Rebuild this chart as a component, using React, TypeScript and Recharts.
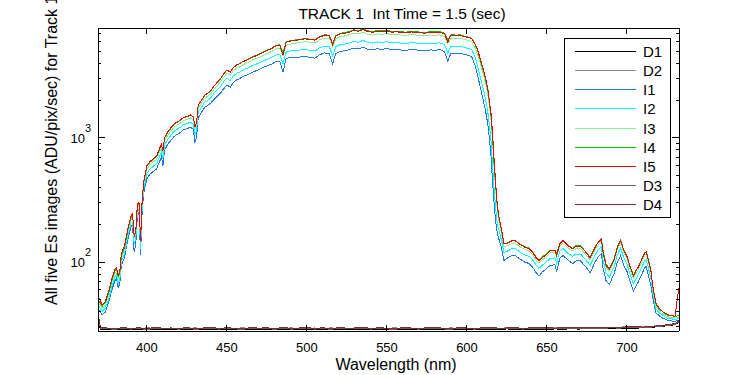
import { LineChart, Line, XAxis, YAxis, Legend } from "recharts";

// wavelength grid (nm) for the five Es image spectra
const wavelengths = [
  369.5, 372, 374, 376, 378, 380, 381, 382, 383, 384,
  386, 388, 390, 391, 392, 393, 394, 395, 396, 397,
  398, 400, 402, 404, 406, 408, 409, 410, 411, 413,
  415, 417, 419, 421, 423, 425, 427, 429, 430, 431,
  432, 434, 436, 438, 440, 442, 444, 446, 448, 450,
  452, 454, 456, 458, 460, 463, 466, 469, 472, 475,
  478, 481, 483, 485, 487, 490, 493, 496, 499, 502,
  505, 508, 511, 514, 516, 518, 521, 524, 527, 529,
  532, 535, 538, 541, 544, 547, 550, 553, 556, 559,
  562, 565, 568, 571, 574, 577, 580, 583, 586, 588,
  590, 593, 596, 599, 601, 603, 605, 606, 607, 608,
  609, 610, 611, 612, 613, 614, 615, 616, 617, 618,
  619, 620, 621, 622, 623, 625, 628, 630, 632, 634,
  636, 639, 641, 643, 645, 647, 649, 652, 655, 656,
  658, 660, 663, 666, 668, 671, 674, 677, 680, 682,
  684, 685, 687, 689, 692, 694, 696, 698, 700, 702,
  704, 707, 709, 711, 712, 713, 715, 716, 718, 720,
  722, 724, 726, 728, 730, 732.4,
];

const i1 = [
  42, 37.5, 39.5, 47, 59, 71, 74, 62, 67, 94,
  109, 151, 192, 200, 120, 140, 235, 250, 115, 258,
  360, 472, 512, 538, 564, 650, 704, 600, 800, 890,
  960, 1030, 1072, 1110, 1170, 1185, 1225, 1170, 920, 1020,
  1450, 1600, 1760, 1830, 1920, 2050, 2180, 2300, 2500, 2680,
  2560, 2800, 2940, 3010, 3140, 3240, 3400, 3510, 3680, 3800,
  3950, 4150, 4170, 3400, 4380, 4450, 4470, 4500, 4570, 4450,
  4400, 4700, 4850, 4780, 3950, 4770, 4990, 5050, 5170, 5300,
  5210, 5380, 5200, 5120, 5240, 5180, 5260, 5130, 5170, 5110,
  5080, 5170, 5130, 5070, 5040, 5130, 5090, 5150, 4980, 4150,
  4830, 4800, 4820, 4700, 4620, 4500, 3850, 3450, 3050, 2680,
  2350, 2060, 1800, 1550, 1290, 1000, 720, 440, 290, 210,
  170, 152, 138, 122, 103, 107, 113, 114, 108, 104,
  100, 97, 91, 83, 77, 83, 87, 94, 95, 84,
  107, 113, 104, 97, 102, 102, 92, 82, 100, 110,
  117, 90, 70, 66, 81, 100, 113, 94, 84, 69,
  58, 69, 78, 90, 92, 82, 64, 52, 39, 37,
  35.5, 34.5, 33.8, 33.5, 33.2, 34,
];

const i2 = [
  45, 40, 42.5, 50, 63, 76, 79, 67, 72, 100,
  117, 162, 205, 213, 140, 153, 250, 268, 128, 275,
  392, 520, 565, 592, 620, 715, 775, 680, 875, 975,
  1055, 1135, 1180, 1220, 1285, 1300, 1345, 1290, 1060, 1150,
  1600, 1760, 1935, 2010, 2110, 2300, 2460, 2600, 2850, 3030,
  2900, 3170, 3320, 3400, 3540, 3660, 3840, 3970, 4150, 4300,
  4470, 4700, 4720, 3950, 4950, 5050, 5080, 5120, 5200, 5070,
  5020, 5350, 5510, 5440, 4580, 5420, 5670, 5720, 5870, 6020,
  5920, 6110, 5910, 5810, 5950, 5890, 5970, 5830, 5880, 5810,
  5770, 5870, 5830, 5760, 5730, 5830, 5790, 5850, 5660, 4850,
  5500, 5460, 5490, 5340, 5260, 5140, 4500, 4080, 3650, 3230,
  2850, 2520, 2230, 1930, 1630, 1280, 950, 600, 380, 265,
  200, 180, 160, 142, 119, 122, 128, 129, 123, 118,
  114, 111, 104, 95, 89, 94, 99, 107, 108, 98,
  122, 129, 118, 111, 116, 116, 105, 94, 114, 125,
  133, 104, 81, 76, 92, 114, 129, 108, 96, 79,
  67, 79, 89, 102, 104, 94, 73, 58, 42, 39,
  37.5, 36, 35, 34.8, 34.5, 35,
];

const i3 = [
  48, 42.5, 45, 54, 67, 81, 84, 73, 77, 107,
  124, 172, 218, 229, 158, 165, 268, 287, 146, 296,
  420, 562, 610, 640, 672, 780, 838, 762, 952, 1055,
  1140, 1225, 1275, 1320, 1388, 1405, 1455, 1405, 1180, 1255,
  1730, 1900, 2090, 2175, 2280, 2480, 2650, 2830, 3090, 3310,
  3200, 3480, 3650, 3740, 3900, 4040, 4250, 4400, 4600, 4790,
  4980, 5260, 5310, 4560, 5590, 5730, 5810, 5880, 6000, 5870,
  5830, 6200, 6390, 6320, 5450, 6300, 6580, 6650, 6820, 7000,
  6880, 7100, 6860, 6750, 6910, 6840, 6940, 6770, 6820, 6750,
  6700, 6820, 6770, 6690, 6660, 6770, 6720, 6790, 6580, 5780,
  6390, 6350, 6370, 6200, 6110, 5970, 5360, 4980, 4560, 4140,
  3710, 3340, 3010, 2630, 2270, 1830, 1400, 930, 560, 375,
  260, 214, 185, 161, 133, 135, 141, 142, 136, 131,
  126, 122, 115, 104, 99, 104, 109, 119, 119, 111,
  135, 143, 130, 123, 128, 128, 116, 104, 126, 138,
  147, 119, 90, 85, 102, 126, 142, 119, 106, 87,
  74, 87, 99, 113, 115, 104, 81, 62, 44.5, 40.5,
  38.8, 37, 36, 35.8, 35.5, 36,
];

const i4 = [
  50, 44, 47, 56, 70, 85, 88, 76, 80, 112,
  130, 180, 228, 240, 165, 172, 280, 300, 152, 310,
  440, 590, 640, 672, 705, 820, 880, 800, 1000, 1110,
  1200, 1290, 1340, 1390, 1460, 1480, 1530, 1480, 1240, 1320,
  1820, 2000, 2200, 2290, 2400, 2620, 2800, 3000, 3280, 3520,
  3400, 3700, 3880, 3980, 4150, 4300, 4520, 4680, 4900, 5100,
  5300, 5600, 5650, 4850, 5950, 6100, 6180, 6250, 6380, 6250,
  6200, 6600, 6800, 6720, 5800, 6700, 7000, 7080, 7250, 7450,
  7320, 7550, 7300, 7180, 7350, 7280, 7380, 7200, 7260, 7180,
  7130, 7250, 7200, 7120, 7080, 7200, 7150, 7220, 7000, 6150,
  6800, 6750, 6780, 6600, 6500, 6350, 5700, 5300, 4850, 4400,
  3950, 3550, 3200, 2800, 2420, 1950, 1500, 1000, 600, 400,
  275, 225, 195, 170, 140, 142, 149, 150, 143, 138,
  133, 129, 121, 110, 104, 110, 115, 125, 125, 117,
  142, 150, 137, 129, 135, 135, 122, 109, 133, 145,
  155, 125, 95, 89, 107, 133, 150, 125, 112, 92,
  78, 92, 104, 119, 121, 110, 85, 65, 46, 42,
  40, 38, 37, 36.8, 36.5, 37,
];

const i5 = [
  53, 45, 48, 58, 73, 88, 90, 78, 84, 118,
  135, 186, 235, 246, 160, 178, 290, 305, 148, 318,
  450, 600, 650, 680, 712, 830, 890, 790, 1010, 1120,
  1210, 1300, 1350, 1400, 1470, 1490, 1540, 1470, 1220, 1330,
  1840, 2010, 2210, 2300, 2420, 2640, 2810, 3020, 3300, 3540,
  3380, 3690, 3860, 3960, 4130, 4270, 4480, 4640, 4860, 5060,
  5260, 5560, 5600, 4700, 5900, 6050, 6120, 6200, 6300, 6200,
  6150, 6530, 6720, 6650, 5650, 6620, 6920, 7000, 7150, 7350,
  7250, 7450, 7220, 7100, 7260, 7200, 7300, 7120, 7180, 7100,
  7050, 7160, 7120, 7040, 7000, 7120, 7060, 7140, 6900, 5950,
  6720, 6680, 6700, 6520, 6450, 6300, 5750, 5400, 4950, 4500,
  4050, 3650, 3280, 2880, 2500, 2000, 1580, 1080, 650, 420,
  285, 230, 198, 172, 142, 141, 148, 149, 142, 137,
  132, 128, 120, 109, 103, 108, 113, 123, 124, 112,
  140, 149, 136, 128, 134, 134, 121, 108, 131, 144,
  154, 120, 93, 88, 105, 131, 149, 124, 111, 91,
  77, 91, 103, 118, 120, 108, 84, 66, 47, 42.5,
  40, 38.5, 37.5, 37, 36.5, 62,
];

// dark frames, sampled on their own grid
const darkWavelengths = [
  369.5, 371, 375, 380, 385, 390, 395, 400, 405, 410, 415,
  420, 425, 430, 435, 440, 445, 450, 455, 460, 465,
  470, 475, 480, 485, 490, 495, 500, 505, 510, 515,
  520, 525, 530, 535, 540, 545, 550, 555, 560, 565,
  570, 575, 580, 585, 590, 595, 600, 605, 610, 615,
  620, 625, 630, 635, 640, 645, 650, 655, 660, 665,
  670, 675, 680, 685, 690, 695, 700, 705, 710, 715,
  720, 725, 730, 732.4,
];

const d1 = [
  31, 28.7, 28.6, 28.9, 28.4, 28.8, 28.5, 29.0, 28.6, 28.3, 28.8,
  28.7, 28.4, 28.9, 28.6, 28.5, 28.8, 28.4, 28.7, 28.9, 28.5,
  28.6, 28.3, 28.8, 28.6, 28.9, 28.4, 28.6, 28.7, 28.5, 28.9,
  28.4, 28.6, 28.8, 28.5, 28.7, 28.3, 28.6, 28.9, 28.5, 28.7,
  28.4, 28.8, 28.6, 28.5, 28.9, 28.4, 28.7, 28.6, 28.8, 28.5,
  28.6, 28.9, 28.4, 28.7, 28.5, 28.8, 28.6, 28.9, 28.7, 29.0,
  28.8, 29.1, 28.9, 29.2, 29.0, 29.3, 29.4, 29.2, 29.6, 29.8,
  30.1, 30.6, 31.2, 32.5,
];

const d2 = [
  33, 29.3, 29.1, 29.4, 28.9, 29.3, 29.0, 29.5, 29.2, 28.9, 29.4,
  29.2, 29.0, 29.5, 29.1, 29.3, 29.0, 29.4, 29.2, 29.5, 29.0,
  29.3, 28.9, 29.4, 29.1, 29.5, 29.0, 29.2, 29.4, 29.1, 29.5,
  29.0, 29.3, 29.4, 29.1, 29.3, 28.9, 29.2, 29.5, 29.0, 29.3,
  29.1, 29.4, 29.2, 29.0, 29.5, 29.1, 29.3, 29.2, 29.4, 29.0,
  29.2, 29.5, 29.0, 29.3, 29.1, 29.4, 29.2, 29.5, 29.3, 29.6,
  29.4, 29.7, 29.5, 29.8, 29.6, 29.9, 30.0, 29.8, 30.2, 30.4,
  30.7, 31.2, 31.8, 33.2,
];

const d3 = [
  38, 29.2, 29.0, 28.7, 29.2, 28.8, 29.1, 28.6, 29.3, 28.9, 29.0,
  28.8, 29.2, 28.7, 29.0, 29.3, 28.8, 29.1, 28.9, 28.7, 29.2,
  28.9, 29.1, 28.7, 29.3, 28.8, 29.0, 29.2, 28.8, 29.1, 28.7,
  29.2, 28.9, 29.0, 29.3, 28.8, 29.1, 28.9, 28.7, 29.2, 29.0,
  28.8, 29.1, 29.3, 28.9, 28.7, 29.2, 29.0, 28.8, 29.1, 29.3,
  28.9, 29.0, 29.2, 28.8, 29.1, 29.0, 29.3, 28.9, 29.2, 29.1,
  29.3, 29.0, 29.4, 29.2, 29.5, 29.3, 29.6, 29.7, 29.5, 29.9,
  30.2, 30.8, 31.4, 33.0,
];

const d4 = [
  37, 29.5, 29.4, 29.1, 29.6, 29.2, 29.5, 29.0, 29.7, 29.3, 29.4,
  29.2, 29.6, 29.1, 29.4, 29.7, 29.2, 29.5, 29.3, 29.1, 29.6,
  29.3, 29.5, 29.1, 29.7, 29.2, 29.4, 29.6, 29.2, 29.5, 29.1,
  29.6, 29.3, 29.4, 29.7, 29.2, 29.5, 29.3, 29.1, 29.6, 29.4,
  29.2, 29.5, 29.7, 29.3, 29.1, 29.6, 29.4, 29.2, 29.5, 29.7,
  29.3, 29.4, 29.6, 29.2, 29.5, 29.4, 29.7, 29.3, 29.6, 29.5,
  29.7, 29.4, 29.8, 29.6, 29.9, 29.7, 30.0, 30.1, 29.9, 30.3,
  30.6, 31.2, 31.9, 33.6,
];

const xTicks = [400, 450, 500, 550, 600, 650, 700];
const yTicks = [
  30, 40, 50, 60, 70, 80, 90, 100, 200, 300, 400, 500, 600, 700, 800, 900,
  1000, 2000, 3000, 4000, 5000, 6000, 7000,
];
const yMajorTicks = [100, 1000];

const X_DOMAIN: [number, number] = [369.4, 732.5];
const Y_DOMAIN: [number, number] = [27.8, 7700];

const FONT = "'Liberation Sans', Arial, sans-serif";

const specData = wavelengths.map((wl, i) => ({
  wl,
  I1: i1[i],
  I2: i2[i],
  I3: i3[i],
  I4: i4[i],
  I5: i5[i],
}));

const darkData = darkWavelengths.map((wl, i) => ({
  wl,
  D1: d1[i],
  D2: d2[i],
  D3: d3[i],
  D4: d4[i],
}));

// plot order = legend order
const series = [
  { key: "D1", color: "#000000", dark: true },
  { key: "D2", color: "#8c8c8c", dark: true },
  { key: "I1", color: "#1f78e6", dark: false },
  { key: "I2", color: "#00ffff", dark: false },
  { key: "I3", color: "#8cf08c", dark: false },
  { key: "I4", color: "#00c000", dark: false },
  { key: "I5", color: "#ee0000", dark: false },
  { key: "D3", color: "#7e5858", dark: true },
  { key: "D4", color: "#7a3030", dark: true },
];

// ticks point inwards, like the matlab box axes
const BottomTick = (props: any) => {
  const { x, y, payload } = props;
  return (
    <g>
      <line x1={x} x2={x} y1={y} y2={y - 6} stroke="#000" shapeRendering="crispEdges" />
      <text x={x} y={y + 21} textAnchor="middle" fontSize={13} fontFamily={FONT} fill="#000">
        {payload.value}
      </text>
    </g>
  );
};

const TopTick = (props: any) => {
  const { x, y } = props;
  return <line x1={x} x2={x} y1={y} y2={y + 6} stroke="#000" shapeRendering="crispEdges" />;
};

const LeftTick = (props: any) => {
  const { x, y, payload } = props;
  const major = yMajorTicks.includes(payload.value);
  const exp = Math.round(Math.log10(payload.value));
  return (
    <g>
      <line x1={x} x2={x + (major ? 7 : 3)} y1={y} y2={y} stroke="#000" shapeRendering="crispEdges" />
      {major && (
        <g fontFamily={FONT} fill="#000">
          <text x={x - 13} y={y + 5} textAnchor="end" fontSize={13}>
            10
          </text>
          <text x={x - 13} y={y - 6} textAnchor="start" fontSize={11}>
            {exp}
          </text>
        </g>
      )}
    </g>
  );
};

const RightTick = (props: any) => {
  const { x, y, payload } = props;
  const major = yMajorTicks.includes(payload.value);
  return <line x1={x} x2={x - (major ? 7 : 3)} y1={y} y2={y} stroke="#000" shapeRendering="crispEdges" />;
};

const LegendBox = () => (
  <svg width={108} height={182} style={{ display: "block" }}>
    <rect x={0.5} y={0.5} width={106} height={179} fill="#fff" stroke="#000" shapeRendering="crispEdges" />
    {series.map((s, i) => {
      const cy = Math.round(12.7 + 19.2 * i) + 0.5;
      return (
        <g key={s.key}>
          <line x1={11} x2={72} y1={cy} y2={cy} stroke={s.color} shapeRendering="crispEdges" />
          <text x={79} y={cy + 5.5} fontSize={15} fontFamily={FONT} fill="#000">
            {s.key}
          </text>
        </g>
      );
    })}
  </svg>
);

export default function App() {
  return (
    <div style={{ position: "absolute", left: 0, top: 0, width: 750, height: 375, background: "#fff" }}>
      <LineChart width={750} height={375} margin={{ top: 27, right: 70, bottom: 14, left: 0 }}>
        <XAxis
          xAxisId="bottom"
          dataKey="wl"
          type="number"
          domain={X_DOMAIN}
          allowDataOverflow
          ticks={xTicks}
          interval={0}
          height={30}
          tickSize={0}
          tickMargin={0}
          tick={<BottomTick />}
          axisLine={{ stroke: "#000", shapeRendering: "crispEdges" }}
        />
        <XAxis
          xAxisId="top"
          orientation="top"
          dataKey="wl"
          type="number"
          domain={X_DOMAIN}
          allowDataOverflow
          ticks={xTicks}
          interval={0}
          height={1}
          tickSize={0}
          tickMargin={0}
          tick={<TopTick />}
          axisLine={{ stroke: "#000", shapeRendering: "crispEdges" }}
        />
        <YAxis
          yAxisId="left"
          type="number"
          scale="log"
          domain={Y_DOMAIN}
          allowDataOverflow
          ticks={yTicks}
          interval={0}
          width={98}
          tickSize={0}
          tickMargin={0}
          tick={<LeftTick />}
          axisLine={{ stroke: "#000", shapeRendering: "crispEdges" }}
        />
        <YAxis
          yAxisId="right"
          orientation="right"
          type="number"
          scale="log"
          domain={Y_DOMAIN}
          allowDataOverflow
          ticks={yTicks}
          interval={0}
          width={1}
          tickSize={0}
          tickMargin={0}
          tick={<RightTick />}
          axisLine={{ stroke: "#000", shapeRendering: "crispEdges" }}
        />
        {series.map((s) => (
          <Line
            key={s.key}
            data={s.dark ? darkData : specData}
            xAxisId="bottom"
            yAxisId="left"
            dataKey={s.key}
            name={s.key}
            type="linear"
            stroke={s.color}
            strokeWidth={1}
            shapeRendering="crispEdges"
            dot={false}
            activeDot={false}
            isAnimationActive={false}
          />
        ))}
        <Legend
          layout="vertical"
          align="center"
          verticalAlign="middle"
          content={<LegendBox />}
          wrapperStyle={{ position: "absolute", left: 564, top: 38, width: 108, height: 182 }}
        />
      </LineChart>
      <svg
        width={750}
        height={375}
        style={{ position: "absolute", left: 0, top: 0, pointerEvents: "none" }}
        fontFamily={FONT}
        fill="#000"
      >
        <text x={402} y={19} textAnchor="middle" fontSize={15.5} style={{ whiteSpace: "pre" }}>
          {"TRACK 1  Int Time = 1.5 (sec)"}
        </text>
        <text x={396} y={370} textAnchor="middle" fontSize={16}>
          Wavelength (nm)
        </text>
        <text transform="translate(57,305) rotate(-90)" fontSize={16}>
          All five Es images (ADU/pix/sec) for Track 1
        </text>
      </svg>
    </div>
  );
}
